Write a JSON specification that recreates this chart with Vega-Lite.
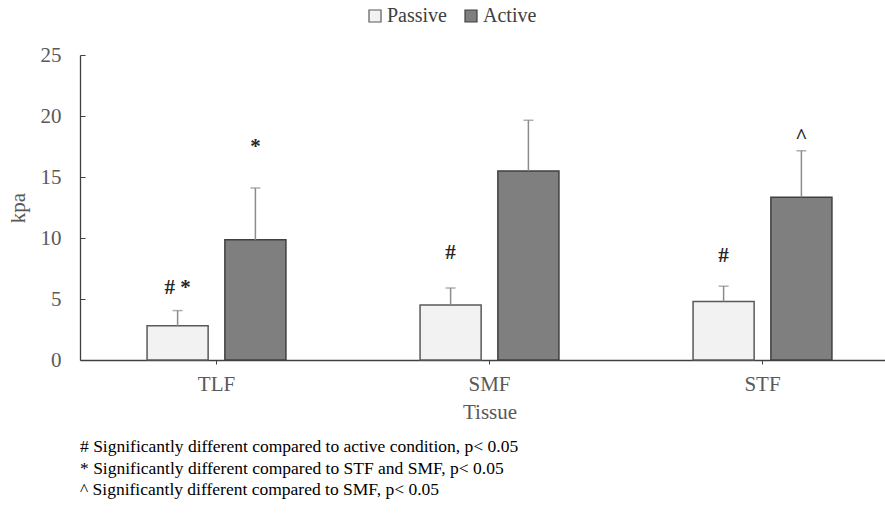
{
  "$schema": "https://vega.github.io/schema/vega-lite/v6.json",
  "width": 819,
  "height": 305,
  "autosize": {"type": "none"},
  "padding": {"left": 80, "top": 55, "right": 0, "bottom": 155},
  "background": "white",
  "config": {
    "font": "Liberation Serif",
    "view": {"stroke": null},
    "axis": {"grid": false, "labelFont": "Liberation Serif", "titleFont": "Liberation Serif", "labelColor": "#595959", "titleColor": "#595959", "titleFontWeight": "normal"}
  },
  "title": {
    "text": [
      "# Significantly different compared to active condition, p< 0.05",
      "* Significantly different compared to STF and SMF, p< 0.05",
      "^ Significantly different compared to SMF, p< 0.05"
    ],
    "orient": "bottom",
    "anchor": "start",
    "frame": "group",
    "font": "Liberation Serif",
    "fontSize": 17.5,
    "fontWeight": "normal",
    "color": "#000000",
    "lineHeight": 21.5,
    "offset": 16
  },
  "datasets": {
    "bars": [
      {"Tissue": "TLF", "Condition": "Passive", "kpa": 2.8, "upper": 4.05},
      {"Tissue": "TLF", "Condition": "Active", "kpa": 9.85, "upper": 14.1},
      {"Tissue": "SMF", "Condition": "Passive", "kpa": 4.5, "upper": 5.9},
      {"Tissue": "SMF", "Condition": "Active", "kpa": 15.5, "upper": 19.65},
      {"Tissue": "STF", "Condition": "Passive", "kpa": 4.8, "upper": 6.05},
      {"Tissue": "STF", "Condition": "Active", "kpa": 13.35, "upper": 17.15}
    ],
    "notes": [
      {"Tissue": "TLF", "Condition": "Passive", "pos": 5.9, "mark": "# *"},
      {"Tissue": "TLF", "Condition": "Active", "pos": 17.5, "mark": "*"},
      {"Tissue": "SMF", "Condition": "Passive", "pos": 8.8, "mark": "#"},
      {"Tissue": "STF", "Condition": "Passive", "pos": 8.5, "mark": "#"},
      {"Tissue": "STF", "Condition": "Active", "pos": 18.3, "mark": "^"}
    ]
  },
  "encoding": {
    "x": {
      "field": "Tissue", "type": "nominal", "sort": ["TLF", "SMF", "STF"],
      "scale": {"paddingInner": 0.43, "paddingOuter": 0.215},
      "axis": {"labelAngle": 0, "labelFontSize": 21, "titleFontSize": 21, "title": "Tissue", "domainColor": "#404040", "domainWidth": 1.3, "tickColor": "#404040", "tickSize": 4, "labelPadding": 9, "titlePadding": 7}
    },
    "xOffset": {"field": "Condition", "type": "nominal", "sort": ["Passive", "Active"], "scale": {"paddingInner": 0.215, "paddingOuter": 0.1075}}
  },
  "layer": [
    {
      "data": {"name": "bars"},
      "mark": {"type": "bar", "strokeWidth": 1.5},
      "encoding": {
        "y": {
          "field": "kpa", "type": "quantitative",
          "scale": {"domain": [0, 25], "nice": false},
          "axis": {"values": [0, 5, 10, 15, 20, 25], "title": "kpa", "labelFontSize": 21, "titleFontSize": 21, "domainColor": "#404040", "domainWidth": 1.3, "tickColor": "#404040", "tickSize": -5, "labelPadding": 24, "titlePadding": 12}
        },
        "fill": {
          "field": "Condition", "type": "nominal",
          "scale": {"domain": ["Passive", "Active"], "range": ["#f2f2f2", "#7f7f7f"]},
          "legend": {
            "title": null, "orient": "none", "legendX": 285, "legendY": -49, "direction": "horizontal",
            "symbolType": "square", "symbolSize": 144, "symbolStrokeWidth": 1.2, "labelFontSize": 20, "labelFont": "Liberation Serif", "labelColor": "#404040", "columnPadding": 14, "labelOffset": 2
          }
        },
        "stroke": {
          "field": "Condition", "type": "nominal",
          "scale": {"domain": ["Passive", "Active"], "range": ["#595959", "#404040"]}
        }
      }
    },
    {
      "data": {"name": "bars"},
      "mark": {"type": "rule", "color": "#8c8c8c", "strokeWidth": 1.5},
      "encoding": {
        "y": {"field": "kpa", "type": "quantitative"},
        "y2": {"field": "upper"}
      }
    },
    {
      "data": {"name": "bars"},
      "mark": {"type": "tick", "color": "#8c8c8c", "orient": "horizontal", "size": 10, "thickness": 1.5},
      "encoding": {
        "y": {"field": "upper", "type": "quantitative"}
      }
    },
    {
      "data": {"name": "notes"},
      "mark": {"type": "text", "font": "Liberation Serif", "fontSize": 21, "fontWeight": "bold", "color": "#262626", "baseline": "middle"},
      "encoding": {
        "y": {"field": "pos", "type": "quantitative"},
        "text": {"field": "mark"}
      }
    }
  ]
}
